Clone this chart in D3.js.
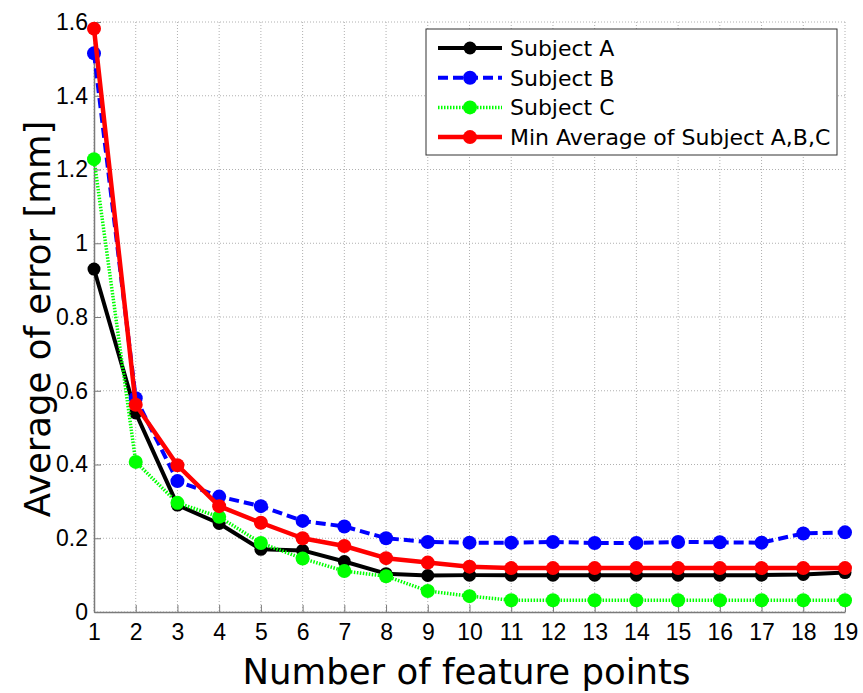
<!DOCTYPE html>
<html>
<head>
<meta charset="utf-8">
<script src="https://cdn.jsdelivr.net/npm/d3@7"></script>
<style>
  body { margin: 0; background: #fff; }
  svg { display: block; }
  .grid line { stroke: #b0b0b0; stroke-width: 1; stroke-dasharray: 1,2; }
  .axis path, .axis line { stroke: #7a7a7a; }
  .axis text { font-family: "Liberation Sans", Arial, sans-serif; font-size: 23px; fill: #000; }
  .title { font-family: "DejaVu Sans", sans-serif; font-size: 35.5px; fill: #000; }
  .legend text { font-family: "DejaVu Sans", sans-serif; font-size: 22px; fill: #000; }
</style>
</head>
<body>
<svg id="chart"></svg>
<script>
// number of feature points
const points = d3.range(1, 20)

const subjectA = [0.93, 0.54, 0.29, 0.24, 0.17, 0.167, 0.137, 0.104, 0.099, 0.1,
  0.1, 0.1, 0.1, 0.1, 0.1, 0.1, 0.1, 0.102, 0.107]
const subjectB = [1.515, 0.58, 0.355, 0.313, 0.287, 0.247, 0.232, 0.2, 0.19, 0.188,
  0.188, 0.19, 0.187, 0.187, 0.19, 0.189, 0.188, 0.213, 0.216]
const subjectC = [1.228, 0.407, 0.296, 0.258, 0.187, 0.145, 0.111, 0.097, 0.057, 0.043,
  0.032, 0.032, 0.032, 0.032, 0.032, 0.032, 0.032, 0.032, 0.032]
const minAverage = [1.582, 0.562, 0.398, 0.287, 0.242, 0.2, 0.179, 0.146, 0.134, 0.123,
  0.119, 0.119, 0.119, 0.119, 0.119, 0.119, 0.119, 0.119, 0.119]

const yTicks = [0, 0.2, 0.4, 0.6, 0.8, 1, 1.2, 1.4, 1.6]

const series = [
  { name: 'Subject A', values: subjectA, color: '#000000', width: 4, dash: null, r: 6.5 },
  { name: 'Subject B', values: subjectB, color: '#0000ff', width: 4, dash: '10,5', r: 7 },
  { name: 'Subject C', values: subjectC, color: '#00ff00', width: 3.5, dash: '1.5,1.5', r: 7 },
  { name: 'Min Average of Subject A,B,C', values: minAverage, color: '#ff0000', width: 4.5, dash: null, r: 7 }
]

const fullWidth = 863
const fullHeight = 693

// margin convention
const margin = { top: 22, right: 18, bottom: 81, left: 94 }
const width = fullWidth - margin.left - margin.right
const height = fullHeight - margin.top - margin.bottom

const xScale = d3.scaleLinear()
  .domain([1, 19])
  .range([0, width])

const yScale = d3.scaleLinear()
  .domain([0, 1.6])
  .range([height, 0])

const svg = d3.select('#chart')
  .attr('width', fullWidth)
  .attr('height', fullHeight)

const g = svg.append('g')
  .attr('transform', `translate(${margin.left}, ${margin.top})`)

// dotted grid
g.append('g')
  .attr('class', 'grid')
  .selectAll('line.v')
  .data(points)
  .join('line')
  .attr('x1', d => xScale(d))
  .attr('x2', d => xScale(d))
  .attr('y1', 0)
  .attr('y2', height)

g.append('g')
  .attr('class', 'grid')
  .selectAll('line.h')
  .data(yTicks)
  .join('line')
  .attr('x1', 0)
  .attr('x2', width)
  .attr('y1', d => yScale(d))
  .attr('y2', d => yScale(d))

// axes, ticks pointing inward
const xAxis = g.append('g')
  .attr('class', 'axis')
  .attr('transform', `translate(0, ${height})`)
  .call(d3.axisBottom(xScale).tickValues(points).tickFormat(d3.format('d'))
    .tickSizeInner(-7).tickSizeOuter(0).tickPadding(12))

const yAxis = g.append('g')
  .attr('class', 'axis')
  .call(d3.axisLeft(yScale).tickValues(yTicks).tickFormat(d => String(d))
    .tickSizeInner(-7).tickSizeOuter(0).tickPadding(6))

xAxis.select('.domain').attr('stroke-width', 1.5)
yAxis.select('.domain').attr('stroke-width', 1.5)

// axis titles
svg.append('text')
  .attr('class', 'title')
  .attr('x', margin.left + width / 2 - 3)
  .attr('y', 684)
  .attr('text-anchor', 'middle')
  .text('Number of feature points')

svg.append('text')
  .attr('class', 'title')
  .attr('transform', `translate(50, ${margin.top + height / 2 + 2}) rotate(-90)`)
  .attr('text-anchor', 'middle')
  .text('Average of error [mm]')

// lines and markers
const line = d3.line()
  .x((d, i) => xScale(points[i]))
  .y(d => yScale(d))

series.forEach(s => {
  const sg = g.append('g')
  sg.append('path')
    .datum(s.values)
    .attr('fill', 'none')
    .attr('stroke', s.color)
    .attr('stroke-width', s.width)
    .attr('stroke-dasharray', s.dash)
    .attr('stroke-linejoin', 'round')
    .attr('d', line)

  sg.selectAll('circle')
    .data(s.values)
    .join('circle')
    .attr('cx', (d, i) => xScale(points[i]))
    .attr('cy', d => yScale(d))
    .attr('r', s.r)
    .attr('fill', s.color)
})

// legend
const legend = svg.append('g')
  .attr('class', 'legend')
  .attr('transform', 'translate(426, 29)')

legend.append('rect')
  .attr('width', 411)
  .attr('height', 126)
  .attr('fill', '#fff')
  .attr('stroke', '#333')
  .attr('stroke-width', 1)

const item = legend.selectAll('g.item')
  .data(series)
  .join('g')
  .attr('class', 'item')
  .attr('transform', (d, i) => `translate(0, ${19 + i * 29.7})`)

item.append('line')
  .attr('x1', 12)
  .attr('x2', 76)
  .attr('stroke', d => d.color)
  .attr('stroke-width', d => d.width)
  .attr('stroke-dasharray', d => d.dash)

item.append('circle')
  .attr('cx', 44)
  .attr('r', d => d.r)
  .attr('fill', d => d.color)

item.append('text')
  .attr('x', 84)
  .attr('dy', '0.36em')
  .text(d => d.name)
</script>
</body>
</html>
